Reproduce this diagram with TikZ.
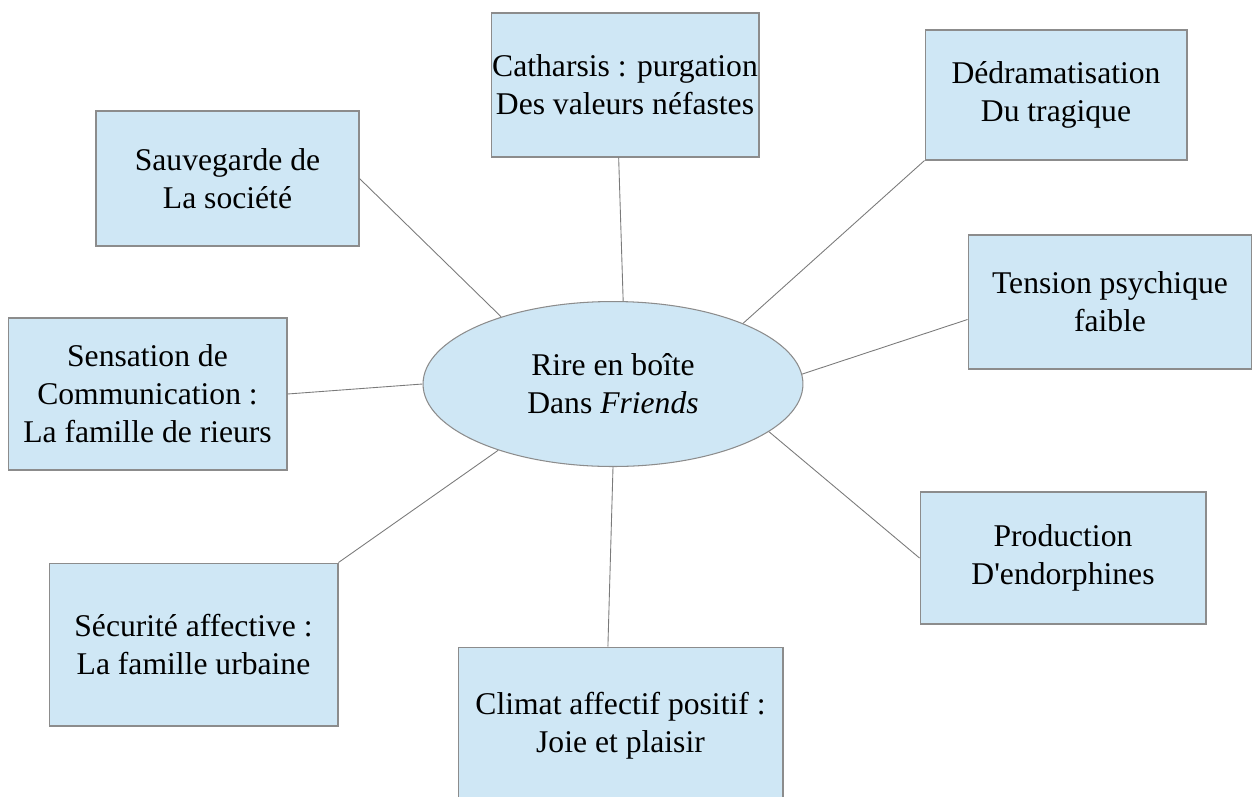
\documentclass[tikz,border=0pt]{standalone}
\usepackage{fontspec}
\setmainfont{Liberation Serif}
\usepackage{tikz}
\usetikzlibrary{shapes.geometric}

\definecolor{boxfill}{HTML}{CFE7F5}
\definecolor{boxline}{HTML}{8C8C8C}
\definecolor{linkline}{HTML}{7A7A7A}

\begin{document}
\begin{tikzpicture}[x=0.02cm,y=-0.02cm,
    font=\fontsize{18}{21.6}\selectfont,
    block/.style={draw=boxline, fill=boxfill, line width=0.6pt,
        inner sep=0pt, align=center},
    link/.style={draw=linkline, line width=0.5pt}]

\useasboundingbox (0,0) rectangle (1252,796);

\node[block,
    ellipse,
    minimum width=7.6cm,
    minimum height=3.3cm
] (blockRire) at (613,384) { Rire en boîte\\Dans \textit{Friends} };

\node[block,
    minimum width=5.36cm,
    minimum height=2.88cm
] (blockCatharsis) at (625,85) { Catharsis : purgation\\Des valeurs néfastes };

\node[block,
    minimum width=5.24cm,
    minimum height=2.6cm
] (blockDedra) at (1056,95) { Dédramatisation\\Du tragique };

\node[block,
    minimum width=5.26cm,
    minimum height=2.7cm
] (blockSauve) at (227.5,178.5) { Sauvegarde de\\La société };

\node[block,
    minimum width=5.68cm,
    minimum height=2.68cm
] (blockTension) at (1110,302) { Tension psychique\\faible };

\node[block,
    minimum width=5.58cm,
    minimum height=3.04cm
] (blockSensation) at (147.5,394) { Sensation de\\Communication :\\La famille de rieurs };

\node[block,
    minimum width=5.72cm,
    minimum height=2.64cm
] (blockProd) at (1063,558) { Production\\D\textquotesingle endorphines };

\node[block,
    minimum width=5.78cm,
    minimum height=3.26cm
] (blockSecu) at (193.5,644.5) { Sécurité affective :\\La famille urbaine };

\node[block,
    minimum width=6.5cm,
    minimum height=3.16cm
] (blockClimat) at (620.5,726) { Climat affectif positif :\\Joie et plaisir };

\draw[link] (blockCatharsis.265) -- (blockRire.83);
\draw[link] (blockDedra.south west) -- (blockRire.25);
\draw[link] (blockSauve.east) -- (blockRire.149);
\draw[link] (blockTension.187) -- (blockRire.3);
\draw[link] (blockSensation.east) -- (blockRire.west);
\draw[link] (blockProd.west) -- (blockRire.-17);
\draw[link] (blockSecu.north east) -- (blockRire.210);
\draw[link] (blockClimat.99) -- (blockRire.south);

\end{tikzpicture}
\end{document}
